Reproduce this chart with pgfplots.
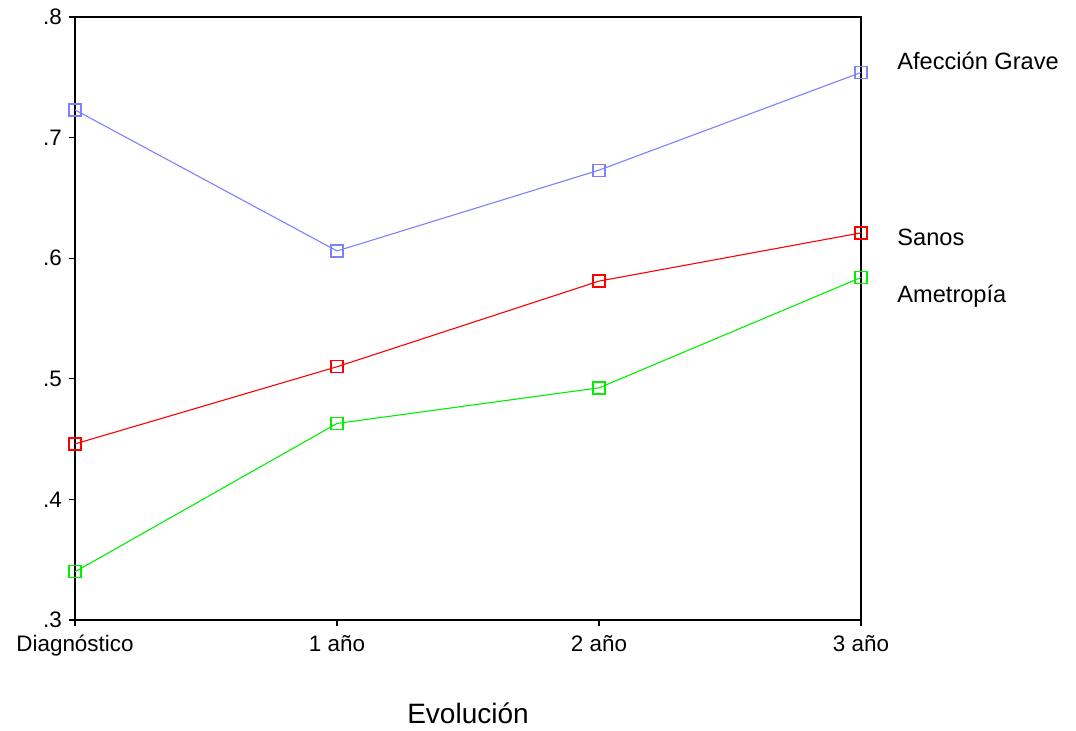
\documentclass[border=0pt]{standalone}
\usepackage{pgfplots}
\pgfplotsset{compat=1.18}
\usepackage{fontspec}
\setmainfont{Liberation Sans}
\definecolor{cblue}{RGB}{128,128,255}
\definecolor{cred}{RGB}{255,0,0}
\definecolor{cgreen}{RGB}{0,240,0}
\begin{document}
\begin{tikzpicture}
\begin{axis}[
  scale only axis,
  width=393pt, height=301.5pt,
  xmin=0, xmax=3, ymin=0.3, ymax=0.8,
  xtick={0,1,2,3},
  xticklabels={Diagnóstico,1 año,2 año,3 año},
  ytick={0.3,0.4,0.5,0.6,0.7,0.8},
  yticklabels={.3,.4,.5,.6,.7,.8},
  tick align=outside,
  tick pos=left,
  major tick length=3pt,
  axis line style={line width=0.8pt},
  tick style={line width=0.6pt, black},
  ticklabel style={font=\fontsize{11.2}{13}\selectfont},
  /pgf/number format/assume math mode=true,
  xticklabel style={yshift=-1pt},
  clip=false,
]
\addplot[cblue, line width=0.55pt, mark=square, mark size=3pt, mark options={solid, draw=cblue, fill=none, line width=0.65pt}] coordinates {(0,0.723) (1,0.606) (2,0.673) (3,0.754)};
\addplot[cred, line width=0.55pt, mark=square, mark size=3pt, mark options={solid, draw=cred, fill=none, line width=0.65pt}] coordinates {(0,0.446) (1,0.510) (2,0.581) (3,0.621)};
\addplot[cgreen, line width=0.55pt, mark=square, mark size=3pt, mark options={solid, draw=cgreen, fill=none, line width=0.65pt}] coordinates {(0,0.340) (1,0.463) (2,0.4925) (3,0.584)};
\node[anchor=west, font=\fontsize{11.8}{14}\selectfont, inner sep=0pt] at (rel axis cs:1.0458,0.927) {Afección Grave};
\node[anchor=west, font=\fontsize{11.8}{14}\selectfont, inner sep=0pt] at (rel axis cs:1.0458,0.635) {Sanos};
\node[anchor=west, font=\fontsize{11.8}{14}\selectfont, inner sep=0pt] at (rel axis cs:1.0458,0.537) {Ametropía};
\node[font=\fontsize{14}{16}\selectfont, inner sep=0pt] at (rel axis cs:0.5,-0.154) {Evolución};
\path[use as bounding box] (rel axis cs:-0.0954,-0.1824) rectangle (rel axis cs:1.2735,1.0282);
\end{axis}
\end{tikzpicture}
\end{document}
